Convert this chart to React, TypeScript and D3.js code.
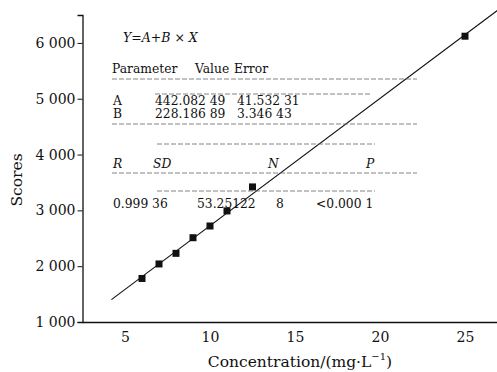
import React, { useRef, useEffect } from 'react';
import * as d3 from 'd3';

// measured calibration points
const concentrations = [6, 7, 8, 9, 10, 11, 12.5, 25];
const scores = [1780, 2040, 2230, 2510, 2720, 2990, 3420, 6120];

// linear fit Y = A + B * X
const intercept = 442.08249;
const slope = 228.18689;
const fitRange = [4.2, 27.5];

const xTicks = [5, 10, 15, 20, 25];
const yTicks = [1000, 2000, 3000, 4000, 5000, 6000];
const yTickLabels = ['1 000', '2 000', '3 000', '4 000', '5 000', '6 000'];

const paramRows = [
  ['A', '442.082 49', '41.532 31'],
  ['B', '228.186 89', '3.346 43'],
];
const statHeads = ['R', 'SD', 'N', 'P'];
const statValues = ['0.999 36', '53.25122', '8', '<0.000 1'];

const width = 497;
const height = 372;
const font = '"DejaVu Serif", "Liberation Serif", serif';

const App = () => {
  const chartRef = useRef<SVGSVGElement>(null);

  useEffect(() => {
    document.body.style.margin = '0';
    const svg = d3.select(chartRef.current);
    svg.selectAll('*').remove();

    const x = d3.scaleLinear().domain([2.5, 27.5]).range([82.5, 507.5]);
    const y = d3.scaleLinear().domain([1000, 6500]).range([322, 15]);

    svg.append('rect').attr('width', width).attr('height', height).attr('fill', '#fff');

    // x axis
    const gx = svg.append('g')
      .attr('transform', `translate(0,${y(1000)})`)
      .call(d3.axisBottom(x).tickValues(xTicks).tickSize(0).tickPadding(10).tickFormat(d => String(d)));
    gx.select('.domain').attr('stroke', '#111').attr('stroke-width', 1.3);
    gx.selectAll('text').attr('font-family', font).attr('font-size', 14).attr('fill', '#111');

    // y axis
    const gy = svg.append('g')
      .attr('transform', `translate(${x(2.5)},0)`)
      .call(d3.axisLeft(y).tickValues(yTicks).tickSize(5).tickPadding(2)
        .tickFormat((d, i) => yTickLabels[i]));
    gy.select('.domain').attr('stroke', '#111').attr('stroke-width', 1.3);
    gy.selectAll('line').attr('stroke', '#111');
    gy.selectAll('text').attr('font-family', font).attr('font-size', 14).attr('fill', '#111');

    // axis titles
    svg.append('text')
      .attr('x', 300).attr('y', 367)
      .attr('text-anchor', 'middle')
      .attr('font-family', font).attr('font-size', 15.5).attr('fill', '#111')
      .call(t => {
        t.append('tspan').text('Concentration/(mg·L');
        t.append('tspan').attr('font-size', 10).attr('dy', -7).text('−1');
        t.append('tspan').attr('dy', 7).text(')');
      });
    svg.append('text')
      .attr('transform', `translate(22,180) rotate(-90)`)
      .attr('text-anchor', 'middle')
      .attr('font-family', font).attr('font-size', 15.5).attr('fill', '#111')
      .text('Scores');

    // fit line
    const line = d3.line<number>().x(d => x(d)).y(d => y(intercept + slope * d));
    svg.append('path')
      .attr('d', line(fitRange))
      .attr('fill', 'none')
      .attr('stroke', '#111')
      .attr('stroke-width', 1.1);

    // points
    svg.append('g')
      .selectAll('rect')
      .data(concentrations)
      .join('rect')
      .attr('x', (d) => x(d) - 3.5)
      .attr('y', (d, i) => y(scores[i]) - 3.5)
      .attr('width', 7)
      .attr('height', 7)
      .attr('fill', '#111');

    // result table
    const tbl = svg.append('g')
      .attr('font-family', font)
      .attr('font-size', 12.3)
      .attr('fill', '#111');

    tbl.append('text').attr('x', 123).attr('y', 42).attr('font-style', 'italic').attr('font-size', 12.5)
      .text('Y=A+B × X');

    tbl.append('text').attr('x', 112).attr('y', 73).text('Parameter');
    tbl.append('text').attr('x', 195).attr('y', 73).text('Value');
    tbl.append('text').attr('x', 234).attr('y', 73).text('Error');

    paramRows.forEach((r, i) => {
      const yy = 105 + i * 13;
      tbl.append('text').attr('x', 113).attr('y', yy).text(r[0]);
      tbl.append('text').attr('x', 155).attr('y', yy).text(r[1]);
      tbl.append('text').attr('x', 237).attr('y', yy).text(r[2]);
    });

    const headX = [113, 153, 268, 366];
    statHeads.forEach((h, i) => {
      tbl.append('text').attr('x', headX[i]).attr('y', 168).attr('font-style', 'italic').text(h);
    });
    const valX = [113, 197, 276, 316];
    statValues.forEach((v, i) => {
      tbl.append('text').attr('x', valX[i]).attr('y', 208).text(v);
    });

    const dashes = [
      [112, 417, 79], [155, 370, 94], [112, 417, 124], [157, 375, 144],
      [112, 417, 173], [157, 375, 191],
    ];
    svg.append('g')
      .selectAll('line')
      .data(dashes)
      .join('line')
      .attr('x1', d => d[0]).attr('x2', d => d[1])
      .attr('y1', d => d[2]).attr('y2', d => d[2])
      .attr('stroke', '#666')
      .attr('stroke-width', 0.8)
      .attr('stroke-dasharray', '5,2');
  }, []);

  return <svg ref={chartRef} width={width} height={height} style={{ display: 'block' }} />;
};

export default App;
